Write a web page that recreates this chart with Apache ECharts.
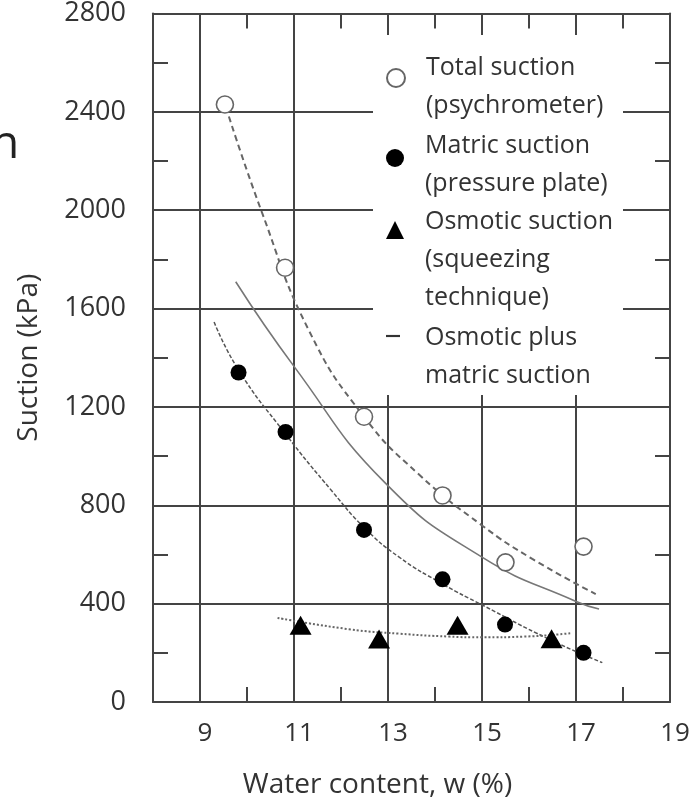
<!DOCTYPE html>
<html>
<head>
<meta charset="utf-8">
<script src="https://cdn.jsdelivr.net/npm/echarts@6/dist/echarts.min.js"></script>
<style>html,body{margin:0;padding:0;background:#fff}#c{width:694px;height:804px}</style>
</head>
<body>
<div id="c"></div>
<script>
// ---- data ----
const totalX   = [9.53, 10.81, 12.49, 14.16, 15.50, 17.16];
const totalY   = [2430, 1766, 1160, 840, 568, 632];
const matricX  = [9.82, 10.82, 12.49, 14.16, 15.49, 17.16];
const matricY  = [1340, 1098, 700, 499, 315, 200];
const osmoticX = [11.14, 12.81, 14.48, 16.48];
const osmoticY = [312, 256, 312, 257];

// fitted curves
const totalFitX   = [9.55, 10.32, 11.32, 12.49, 13.66, 15.0, 16.07, 17.42];
const totalFitY   = [2420, 1990, 1510, 1160, 925, 718, 582, 439];
const sumFitX     = [9.76, 11.0, 12.95, 15.0, 16.99, 17.49];
const sumFitY     = [1709, 1365, 889, 589, 410, 378];
const matricFitX  = [9.30, 9.82, 10.82, 11.82, 12.49, 13.23, 14.16, 15.0, 16.43, 17.56];
const matricFitY  = [1545, 1350, 1090, 855, 710, 590, 480, 395, 255, 160];
const osmoticFitX = [10.65, 12.17, 13.23, 14.3, 15.0, 15.9, 16.9];
const osmoticFitY = [342, 296, 278, 266, 263, 266, 280];

const xTickLabels = [9, 11, 13, 15, 17, 19];
const yTickLabels = [0, 400, 800, 1200, 1600, 2000, 2400, 2800];

const names = [
  'Total suction\n(psychrometer)',
  'Matric suction\n(pressure plate)',
  'Osmotic suction\n(squeezing\ntechnique)',
  'Osmotic plus\nmatric suction'
];

const zip = (xs, ys) => xs.map((x, i) => [x, ys[i]]);

const FONT = 'Open Sans';
const TXT = '#333';
const LINE = '#444';

const chart = echarts.init(document.getElementById('c'), null, {renderer: 'canvas'});

const axisCommon = {
  type: 'value',
  axisLine: {show: true, onZero: false, lineStyle: {color: LINE, width: 2}},
  axisTick: {show: true, inside: true, length: 15, lineStyle: {color: LINE, width: 2}}
};

// legend layout: spacer height above the text so the icon sits by the first line
const legendSpacer = [18, 14, 60, 42];
const legendTop = [39, 119, 172, 297];

function makeLegend(k) {
  const lines = names[k].split('\n');
  const item = {name: names[k]};
  if (k === 3) item.icon = 'path://M0,0L13,0L13,2L0,2Z';
  return {
    orient: 'vertical', left: 386, top: legendTop[k], padding: 0,
    itemWidth: k === 3 ? 14 : 18, itemHeight: 18, selectedMode: false,
    symbolKeepAspect: true,
    data: [item],
    formatter: () => '{s| }\n' + lines.map(l => '{a|' + l + '}').join('\n'),
    textStyle: {
      padding: [0, 0, 0, k === 3 ? 20 : 16],
      rich: {
        s: {fontSize: 2, lineHeight: legendSpacer[k]},
        a: {fontSize: 25, lineHeight: 38, color: TXT, fontFamily: FONT}
      }
    }
  };
}

chart.setOption({
  animation: false,
  backgroundColor: '#fff',
  textStyle: {fontFamily: FONT},
  grid: {left: 153, right: 24, top: 7, bottom: 95, containLabel: false},
  xAxis: [
    Object.assign({}, axisCommon, {
      position: 'bottom', min: 8, max: 19, interval: 1,
      axisLabel: {
        margin: 19, fontSize: 26, color: TXT, fontFamily: FONT, padding: [0, 0, 0, 10],
        formatter: v => xTickLabels.includes(v) ? String(v) : ''
      },
      splitLine: {show: true, lineStyle: {color: ['rgba(0,0,0,0)', LINE], width: 2}},
      name: 'Water content, w (%)', nameLocation: 'middle', nameGap: 69,
      nameTextStyle: {fontSize: 28, color: TXT, fontFamily: FONT, padding: [0, 68, 0, 0]}
    }),
    Object.assign({}, axisCommon, {
      position: 'top', min: 8, max: 19, interval: 1,
      axisLabel: {show: false}, splitLine: {show: false}
    })
  ],
  yAxis: [
    Object.assign({}, axisCommon, {
      position: 'left', min: 0, max: 2800, interval: 200,
      axisLabel: {
        margin: 27, fontSize: 27, color: TXT, fontFamily: FONT,
        formatter: v => yTickLabels.includes(v) ? String(v) : ''
      },
      splitLine: {show: true, lineStyle: {color: [LINE, 'rgba(0,0,0,0)'], width: 2}},
      name: 'Suction (kPa)', nameLocation: 'middle', nameGap: 110,
      nameTextStyle: {fontSize: 28, color: TXT, fontFamily: FONT}
    }),
    Object.assign({}, axisCommon, {
      position: 'right', min: 0, max: 2800, interval: 200,
      axisLabel: {show: false}, splitLine: {show: false}
    })
  ],
  legend: [0, 1, 2, 3].map(makeLegend),
  graphic: [
    {
      type: 'rect', z: 1, silent: true,
      shape: {x: 373, y: 35, width: 250, height: 360},
      style: {fill: '#fff'}
    },
    {
      type: 'text', x: -9, y: 145, silent: true,
      style: {text: 'n', fontSize: 46, fontFamily: FONT, fill: '#222', verticalAlign: 'middle'}
    }
  ],
  series: [
    {
      name: 'total-fit', type: 'line', data: zip(totalFitX, totalFitY), smooth: 0.5,
      symbol: 'none', z: 3,
      lineStyle: {color: '#666', width: 2, type: [6, 4]}
    },
    {
      name: names[3], type: 'line', data: zip(sumFitX, sumFitY), smooth: 0.5,
      symbol: 'none', z: 3,
      itemStyle: {color: '#333'},
      lineStyle: {color: '#777', width: 1.6}
    },
    {
      name: 'matric-fit', type: 'line', data: zip(matricFitX, matricFitY), smooth: 0.5,
      symbol: 'none', z: 3,
      lineStyle: {color: '#555', width: 1.5, type: [4, 2]}
    },
    {
      name: 'osmotic-fit', type: 'line', data: zip(osmoticFitX, osmoticFitY), smooth: 0.5,
      symbol: 'none', z: 3,
      lineStyle: {color: '#666', width: 2, type: [2, 2]}
    },
    {
      name: names[0], type: 'scatter', data: zip(totalX, totalY),
      symbol: 'circle', symbolSize: 17, z: 5,
      itemStyle: {color: '#fff', borderColor: '#666', borderWidth: 1.6, opacity: 1}
    },
    {
      name: names[1], type: 'scatter', data: zip(matricX, matricY),
      symbol: 'circle', symbolSize: 16, z: 5,
      itemStyle: {color: '#000', opacity: 1}
    },
    {
      name: names[2], type: 'scatter', data: zip(osmoticX, osmoticY),
      symbol: 'triangle', symbolSize: [22, 19], z: 5,
      itemStyle: {color: '#000', opacity: 1}
    }
  ]
});
</script>
</body>
</html>
